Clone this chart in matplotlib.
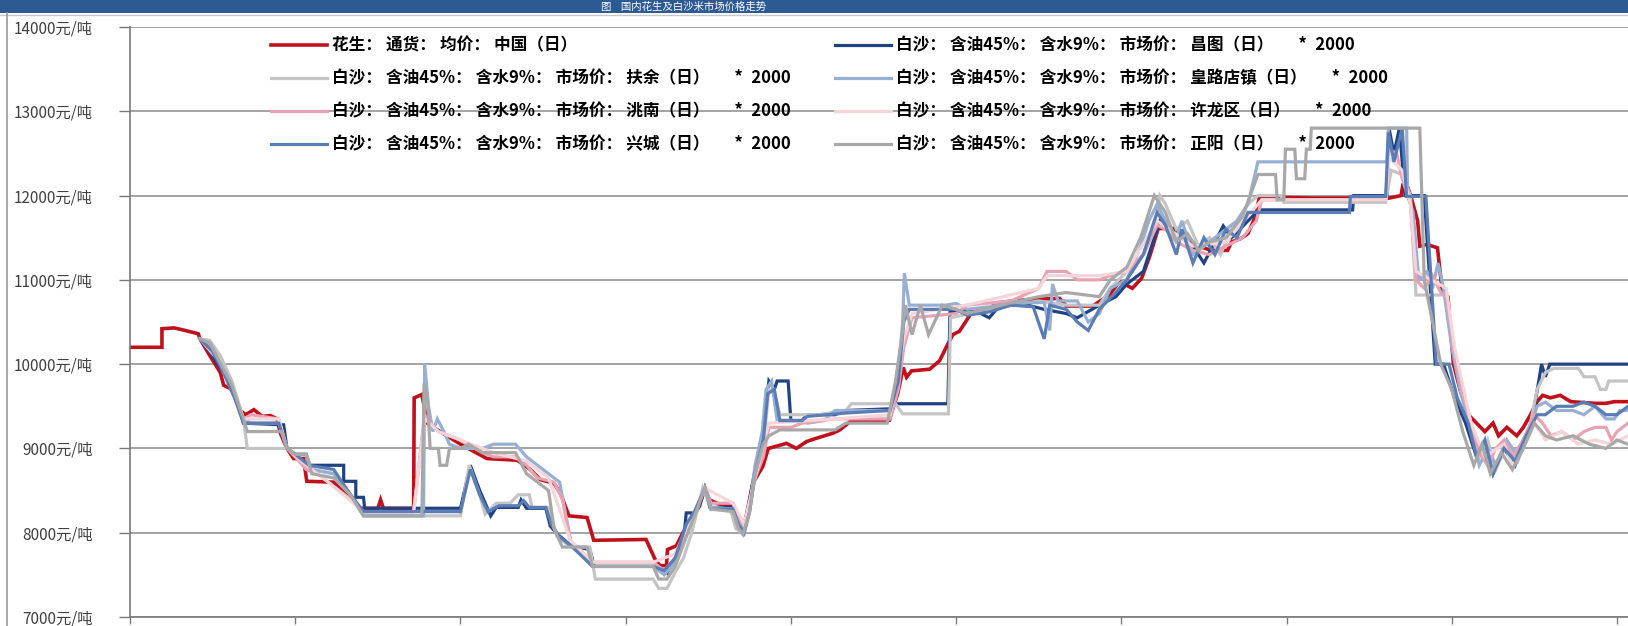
import matplotlib
matplotlib.use("Agg")
import matplotlib.pyplot as plt
from matplotlib.patches import Rectangle
from matplotlib.lines import Line2D

plt.rcParams['font.family'] = ['Noto Sans CJK SC', 'DejaVu Sans']

# x: trading days from the left edge of the chart, y: yuan/ton
china = [(0, 10200), (5.8, 10200), (5.8, 10420), (8, 10430), (10, 10400), (12.4, 10360), (12.7, 10300),
         (14.5, 10100), (16.4, 9900), (17, 9750), (18.5, 9700), (20, 9450), (21, 9400), (22.5, 9460),
         (24, 9380), (25.5, 9390), (26.7, 9350), (27.3, 9180), (28.5, 9000), (29.7, 8880), (31.5, 8880),
         (32.1, 8610), (37, 8600), (39.4, 8440), (41.8, 8290), (45, 8290), (45.5, 8390), (46, 8290),
         (51.5, 8290), (51.6, 9600), (53, 9640), (54, 9300), (55.8, 9220), (60, 9050), (64.8, 8880),
         (70.3, 8860), (72.7, 8750), (74.5, 8630), (77, 8585), (78.2, 8460), (79.7, 8200), (83, 8180),
         (84.2, 7910), (93.7, 7920), (95.3, 7690), (96.2, 7610), (97.4, 7610), (97.6, 7800), (99.2, 7845),
         (100.4, 8000), (102.2, 8200), (103.4, 8315), (104.4, 8530), (105.2, 8390), (107.1, 8335),
         (109.5, 8335), (110.1, 8240), (111.3, 8040), (111.9, 8200), (113.1, 8590), (114.9, 8785),
         (115.9, 9000), (119.2, 9060), (121, 9000), (122.8, 9080), (124.6, 9120), (127.6, 9180),
         (128.9, 9220), (130.7, 9315), (131.9, 9335), (137.9, 9335), (138.5, 9470), (139.4, 9650),
         (140.4, 9960), (141, 9845), (141.9, 9920), (145.2, 9940), (147, 10040), (148.2, 10200),
         (149.4, 10350), (150.6, 10390), (151.8, 10510), (153, 10630), (156.1, 10670), (157.9, 10730),
         (160.3, 10750), (163.9, 10770), (168.8, 10780), (170, 10690), (174.8, 10690), (177.8, 10820),
         (179.7, 10980), (182, 10900), (183.7, 11020), (185.2, 11290), (186.7, 11610), (189.5, 11610),
         (190.7, 11530), (193.8, 11410), (196.2, 11350), (199.3, 11350), (200, 11450), (201.7, 11490),
         (203, 11550), (204.2, 11730), (205.1, 11985), (215, 11970), (228.6, 11970), (230.8, 12000),
         (231.1, 12120), (232, 12100), (232.6, 11985), (233.8, 11700), (234.2, 11400), (235.5, 11420),
         (237.4, 11380), (238.3, 10850), (239.3, 10800), (240.3, 10000), (241.5, 9700), (243, 9400),
         (244.5, 9300), (246, 9200), (247.5, 9300), (248.5, 9150), (250, 9250), (251.8, 9150), (253, 9250),
         (254.3, 9400), (255.5, 9555), (256.5, 9630), (257.9, 9600), (259.7, 9630), (261.6, 9555),
         (265.9, 9535), (268, 9535), (269.5, 9555), (272, 9555)]

changtu = [(12.7, 10300), (14.5, 10150), (16.4, 9950), (18, 9800), (19, 9650), (20.6, 9300), (27.9, 9280),
           (28.5, 9000), (30, 8930), (32, 8930), (32.5, 8800), (38.8, 8800), (38.8, 8610), (41, 8610),
           (41, 8420), (42.4, 8420), (42.6, 8290), (60, 8290), (61.8, 8800), (63.5, 8500), (65.5, 8200),
           (66.5, 8300), (70.5, 8300), (71, 8390), (72, 8290), (75.5, 8290), (76.3, 8080), (77.5, 7990),
           (80, 7850), (83.5, 7800), (84.3, 7600), (96, 7600), (97.5, 7520), (99, 7700), (100.5, 7900),
           (101, 8235), (102, 8235), (102.3, 8150), (103.5, 8350), (104.4, 8530), (105.3, 8300),
           (109.5, 8300), (110.5, 8100), (111.3, 8000), (112, 8200), (113.5, 8750), (114.8, 9060),
           (115.5, 9500), (116, 9800), (117, 9700), (117.5, 9800), (119.5, 9800), (120, 9330), (122, 9330),
           (123, 9400), (128, 9400), (130, 9450), (138, 9470), (139, 9530), (148.5, 9530), (148.9, 10620),
           (153, 10650), (156, 10550), (158, 10700), (163, 10700), (166, 10650), (170, 10600), (172, 10550),
           (176, 10700), (179, 10800), (181, 10950), (184, 11100), (187, 11700), (190, 11550), (193, 11400),
           (195, 11200), (197, 11450), (198.5, 11640), (200, 11500), (203, 11700), (205, 11830),
           (222, 11830), (222.2, 12000), (228.3, 12000), (228.6, 12800), (229.5, 12500), (230.5, 12800),
           (231.5, 12000), (235, 12000), (237, 10000), (238.5, 10000), (240.5, 9600), (242.5, 9300),
           (244.5, 8900), (246, 9050), (247.5, 8700), (249.5, 9000), (251.5, 8800), (253, 9100),
           (254.5, 9300), (255.8, 9800), (256.3, 10000), (257, 9850), (257.8, 10000), (272, 10000)]

fuyu = [(12.7, 10300), (14.5, 10280), (16.4, 10100), (18.5, 9800), (20.6, 9350), (21.3, 9000), (28.5, 9000),
        (30, 8930), (32, 8930), (33, 8750), (37, 8700), (39.5, 8500), (42.4, 8200), (60, 8200), (61.6, 8800),
        (63.5, 8450), (64.5, 8220), (66.5, 8350), (69, 8350), (70.5, 8450), (72.5, 8450), (73, 8300),
        (76, 8300), (77.5, 7960), (80, 7830), (83.5, 7830), (84.5, 7450), (95, 7450), (96, 7340),
        (97.5, 7340), (99, 7530), (100.5, 7700), (102, 8000), (104, 8530), (105.5, 8300), (109, 8280),
        (110, 8050), (111.5, 7980), (112.5, 8250), (113.5, 8700), (115, 9000), (116, 9700), (117, 9650),
        (118, 9400), (125, 9400), (130, 9450), (131, 9530), (139, 9530), (140.3, 9410), (148.6, 9410),
        (149, 10550), (156, 10650), (160, 10700), (165, 10750), (170, 10700), (176, 10700), (178, 10900),
        (181, 11100), (184, 11300), (186.5, 11800), (187, 12000), (188, 11900), (190, 11600), (192, 11700),
        (194, 11400), (196, 11500), (198, 11300), (200, 11600), (203, 11900), (204.8, 12000), (209, 12000),
        (209.5, 11920), (228, 11920), (229, 12300), (231, 12250), (232.5, 12000), (233.5, 10820),
        (238.8, 10820), (240, 10300), (241.5, 9800), (243.5, 9300), (245, 8900), (246.5, 9100),
        (248, 8750), (250, 9050), (252, 8850), (254, 9200), (255.5, 9700), (257, 9900), (258.5, 9950),
        (263, 9950), (264, 9850), (266, 9850), (267, 9700), (268, 9700), (268.5, 9800), (272, 9800)]

huanglu = [(12.7, 10300), (15, 10200), (17, 9900), (19, 9600), (20.6, 9350), (22, 9300), (27, 9300),
           (28.5, 9000), (30, 8930), (32, 8930), (33, 8750), (37, 8700), (39, 8550), (41, 8350), (42.4, 8200),
           (53.3, 8200), (53.5, 10000), (54.2, 9500), (55, 9200), (55.8, 9350), (57, 9200), (58, 9050),
           (60, 9000), (64, 9000), (66, 9050), (70, 9050), (72, 8900), (74, 8800), (76, 8700), (78, 8600),
           (80, 7900), (84, 7600), (95, 7600), (97, 7500), (99, 7650), (101, 8000), (103, 8300),
           (104.4, 8530), (105.5, 8300), (109.5, 8280), (110.5, 8050), (111.5, 8000), (112.5, 8300),
           (113.5, 8800), (114.8, 9200), (115.5, 9700), (116.5, 9800), (117.5, 9335), (122, 9335),
           (123, 9300), (126, 9330), (128, 9450), (138, 9450), (139.5, 9900), (140.3, 10500), (140.6, 11080),
           (141.5, 10700), (148, 10700), (150, 10720), (152, 10650), (156, 10680), (160, 10730), (166, 10730),
           (167, 10400), (167.5, 10950), (168.5, 10750), (172, 10750), (174, 10500), (176, 10600),
           (178, 10900), (181, 11000), (183.5, 11400), (185, 11700), (186.5, 11900), (188, 11700),
           (190, 11500), (191, 11700), (193, 11300), (195, 11400), (197, 11500), (199, 11600), (201, 11700),
           (203, 11900), (204.8, 12400), (228.2, 12400), (228.5, 12800), (231.8, 12800), (232, 12000),
           (233, 11800), (234, 11000), (235.5, 11100), (236.5, 10900), (237.5, 11200), (238.5, 10900),
           (240, 10200), (241.5, 9700), (243.5, 9200), (245, 8800), (246.5, 9000), (248, 8800), (250, 9100),
           (252, 8900), (254, 9200), (255.5, 9500), (257, 9550), (259, 9450), (262, 9450), (264, 9400),
           (266, 9500), (268, 9350), (269.5, 9350), (270.5, 9450), (272, 9450)]

taonan = [(12.7, 10300), (15, 10200), (17, 9900), (19, 9650), (20.6, 9350), (22, 9400), (27, 9350),
          (28.5, 9000), (30, 8900), (32, 8750), (34, 8700), (36, 8600), (38, 8500), (40, 8400), (42.4, 8250),
          (51.5, 8250), (53.5, 9400), (54.5, 9300), (56, 9200), (60, 9100), (64, 8950), (66, 8900),
          (70, 8900), (72, 8800), (74, 8650), (77, 8600), (78.5, 8400), (80, 7900), (84, 7650), (95, 7650),
          (97, 7550), (99, 7700), (101, 8000), (102.5, 8250), (104.4, 8530), (105.5, 8350), (109.5, 8350),
          (110.5, 8150), (111.5, 8050), (112.5, 8300), (113.5, 8650), (115, 8900), (116, 9250), (120, 9250),
          (122, 9300), (128, 9350), (138, 9350), (139.5, 9700), (140.5, 10200), (142, 10550), (150, 10600),
          (152, 10700), (160, 10750), (165, 10900), (166.5, 11100), (170, 11100), (172, 11000), (176, 11000),
          (178, 11050), (181, 11100), (184, 11300), (186.5, 11650), (188, 11600), (190, 11450),
          (193, 11350), (196, 11300), (199, 11400), (202, 11500), (204.5, 11700), (205.5, 11950),
          (228, 11950), (228.6, 12550), (230, 12500), (231, 12200), (232.5, 11900), (233.5, 11000),
          (235, 10900), (236.5, 11050), (238, 10850), (239, 10800), (240.3, 10200), (241.8, 9700),
          (243.5, 9300), (245, 8950), (246.5, 8800), (248, 9000), (249.5, 9100), (251, 8900), (253, 9100),
          (255, 9400), (256.5, 9300), (258, 9150), (260, 9200), (262, 9100), (264, 9200), (266, 9250),
          (268, 9250), (269, 9100), (270, 9200), (272, 9300)]

xulong = [(12.7, 10300), (16, 10050), (19, 9650), (20.6, 9350), (27, 9350), (28.5, 9000), (32, 8800),
          (36, 8600), (42.4, 8250), (51.5, 8250), (53.5, 9350), (56, 9200), (60, 9100), (66, 8950),
          (72, 8850), (76, 8650), (80, 7900), (84, 7650), (95, 7650), (99, 7750), (104.4, 8530),
          (109.5, 8350), (111.5, 8100), (113.5, 8650), (116, 9300), (128, 9350), (138, 9400), (140.5, 10300),
          (142, 10600), (152, 10700), (165, 10900), (166.5, 11050), (176, 11050), (181, 11100),
          (186.5, 11700), (193, 11400), (199, 11450), (205.5, 11950), (228, 11950), (228.6, 12450),
          (231, 12300), (232.5, 11900), (233.5, 11100), (239, 10900), (240.5, 10200), (243.5, 9300),
          (246, 8900), (249.5, 9050), (251, 8800), (253, 9050), (255, 9300), (257, 9100), (260, 9200),
          (263, 9050), (266, 9100), (269, 9050), (272, 9150)]

xingcheng = [(12.7, 10300), (15, 10150), (17, 9900), (19, 9600), (20.6, 9300), (27, 9300), (28.5, 9000),
             (30, 8930), (32.5, 8800), (37, 8750), (39.5, 8500), (42.4, 8250), (60, 8250), (61.8, 8750),
             (63.5, 8450), (65, 8250), (67, 8320), (70.5, 8320), (71.5, 8380), (72.5, 8300), (75.5, 8300),
             (76.5, 8100), (78, 7950), (80, 7850), (84, 7600), (95, 7600), (97, 7550), (99, 7700), (101, 8100),
             (102.5, 8250), (104.4, 8530), (105.5, 8280), (109.5, 8280), (110.5, 8100), (111.5, 8000),
             (112.5, 8250), (113.5, 8700), (115, 9100), (115.8, 9650), (117, 9700), (118, 9330), (122, 9330),
             (123, 9380), (130, 9420), (138, 9450), (139.5, 9800), (140.5, 10500), (141.5, 10650),
             (150, 10650), (152, 10580), (156, 10620), (160, 10700), (164, 10680), (166, 10300), (167, 10700),
             (170, 10650), (172, 10500), (174, 10400), (176, 10650), (179, 10850), (181, 11000), (184, 11300),
             (186.5, 11800), (188, 11650), (190, 11300), (191, 11600), (193, 11200), (195, 11500),
             (197, 11300), (199, 11600), (201, 11500), (203, 11800), (205, 11800), (221.4, 11800),
             (221.6, 11990), (228, 11990), (228.5, 12750), (229.5, 12400), (231, 12800), (231.8, 11990),
             (235.3, 11990), (237.2, 10000), (239.5, 10000), (241, 9600), (243, 9300), (244.5, 8900),
             (246, 9100), (247.5, 8700), (249.5, 9000), (251.5, 8850), (253.5, 9150), (255.5, 9400),
             (257, 9400), (259, 9500), (262, 9500), (264, 9550), (266, 9500), (268, 9400), (270, 9400),
             (272, 9500)]

zhengyang = [(12.7, 10300), (14.5, 10250), (16.5, 10000), (18.5, 9750), (20.6, 9350), (21.3, 9200),
             (27.5, 9200), (28.5, 9000), (30, 8930), (32, 8930), (33, 8700), (37, 8650), (40, 8450),
             (42.4, 8200), (53, 8200), (53.4, 9770), (54, 9600), (54.5, 9000), (56, 9000), (56.3, 8800),
             (57.5, 8800), (58, 9000), (60, 9000), (61.5, 9050), (64, 8950), (70, 8950), (72, 8700),
             (74, 8600), (76, 8500), (77, 8050), (78.5, 7830), (83, 7830), (84, 7600), (95, 7600), (96, 7450),
             (97.5, 7450), (99, 7600), (101, 7950), (102.5, 8200), (104.4, 8530), (105.5, 8280), (109.5, 8250),
             (110.5, 8050), (111.3, 7980), (112.5, 8250), (113.5, 8700), (115, 9050), (116, 9150), (118, 9220),
             (128, 9220), (130, 9300), (137.5, 9300), (139, 9800), (140.3, 10400), (140.8, 10700),
             (142, 10350), (143.5, 10700), (145, 10350), (147.5, 10700), (150, 10650), (152, 10600),
             (158, 10700), (165, 10800), (170, 10850), (176, 10800), (178, 11000), (181, 11150), (183.5, 11500),
             (186, 12000), (188, 11800), (190, 11450), (192, 11550), (194, 11350), (196, 11450), (199, 11500),
             (202, 11750), (204.8, 12250), (208, 12250), (208.3, 11950), (209.5, 11950), (209.8, 12550),
             (211.5, 12550), (211.8, 12200), (213.3, 12200), (213.6, 12550), (214.3, 12550), (214.5, 12800),
             (234.2, 12800), (235, 11000), (236.5, 10500), (238, 10000), (240, 9700), (242, 9200),
             (244, 8800), (245.5, 9050), (247, 8700), (249, 8950), (251, 8750), (253, 9000), (255, 9300),
             (257, 9150), (259, 9100), (262, 9150), (265, 9050), (268, 9000), (270, 9100), (272, 9050)]

labels = ['花生：通货：均价：中国（日）',
          '白沙：含油45%：含水9%：市场价：昌图（日）  *  2000',
          '白沙：含油45%：含水9%：市场价：扶余（日）  *  2000',
          '白沙：含油45%：含水9%：市场价：皇路店镇（日）  *  2000',
          '白沙：含油45%：含水9%：市场价：洮南（日）  *  2000',
          '白沙：含油45%：含水9%：市场价：许龙区（日）  *  2000',
          '白沙：含油45%：含水9%：市场价：兴城（日）  *  2000',
          '白沙：含油45%：含水9%：市场价：正阳（日）  *  2000']
series = [china, changtu, fuyu, huanglu, taonan, xulong, xingcheng, zhengyang]
colors = ['#c0101c', '#1f4282', '#c4c4c4', '#97afd3', '#e9a2b3', '#f3d5da', '#5b7db6', '#a8a8a8']
widths = [2.6, 2.3, 2.3, 2.3, 2.3, 2.3, 2.3, 2.3]
yticks = [7000, 8000, 9000, 10000, 11000, 12000, 13000, 14000]
xticks = [0, 30, 60, 90, 120, 150, 180, 210, 240, 270]


def spread(s):
    # the legend font in the screenshot is set wide: a little pad after each colon
    return s.replace('：', '：\u2005').replace('  *  ', '\u2003\u2002*\u2002')


W, H = 1628, 626
fig = plt.figure(figsize=(W / 100, H / 100), dpi=100)

# header band of the report page
fig.patches.append(Rectangle((0, (H - 13) / H), 1, 13 / H, transform=fig.transFigure,
                             facecolor='#2e5a94', edgecolor='none'))
fig.add_artist(Line2D([0, 1], [(H - 15) / H] * 2, color='#c8c8c8', lw=1))
fig.add_artist(Line2D([7 / W] * 2, [0, (H - 13) / H], color='#9a9a9a', lw=1.2))
fig.text(0.42, (H - 6.5) / H, '图    国内花生及白沙米市场价格走势', color='white', fontsize=7.5,
         ha='center', va='center')

ax = fig.add_axes([130 / W, 9 / H, (W - 130) / W, 590 / H])
handles = []
for pts, lab, c, lw in zip(series, labels, colors, widths):
    xs, ys = zip(*pts)
    h, = ax.plot(xs, ys, color=c, lw=lw, label=lab, solid_joinstyle='miter')
    handles.append(h)

ax.set_xlim(0, 272)
ax.set_ylim(7000, 14000)
ax.set_yticks(yticks)
ax.set_yticklabels([f'{v}元/吨' for v in yticks])
ax.set_xticks(xticks)
ax.set_xticklabels([])
ax.grid(axis='y', color='#8a8a8a', lw=1.1)
ax.set_axisbelow(True)
for s in ['top', 'right']:
    ax.spines[s].set_visible(False)
for s in ['left', 'bottom']:
    ax.spines[s].set_color('#7a7a7a')
    ax.spines[s].set_linewidth(1.2)
ax.tick_params(axis='y', length=8, width=1, color='#7a7a7a', pad=19, labelsize=11, labelcolor='#404040')
ax.tick_params(axis='x', length=5, width=1, color='#7a7a7a')

# excel lays legend out row by row, matplotlib column by column
order = [0, 2, 4, 6, 1, 3, 5, 7]
ax.legend([handles[i] for i in order], [spread(labels[i]) for i in order], ncol=2, frameon=False,
          loc='upper left', bbox_to_anchor=(0.094, 0.984), borderaxespad=0, borderpad=0,
          handlelength=3.4, handletextpad=0.3, columnspacing=2.6, labelspacing=0.9,
          prop={'size': 12, 'weight': 'bold'})

fig.savefig('out.png', dpi=100)
